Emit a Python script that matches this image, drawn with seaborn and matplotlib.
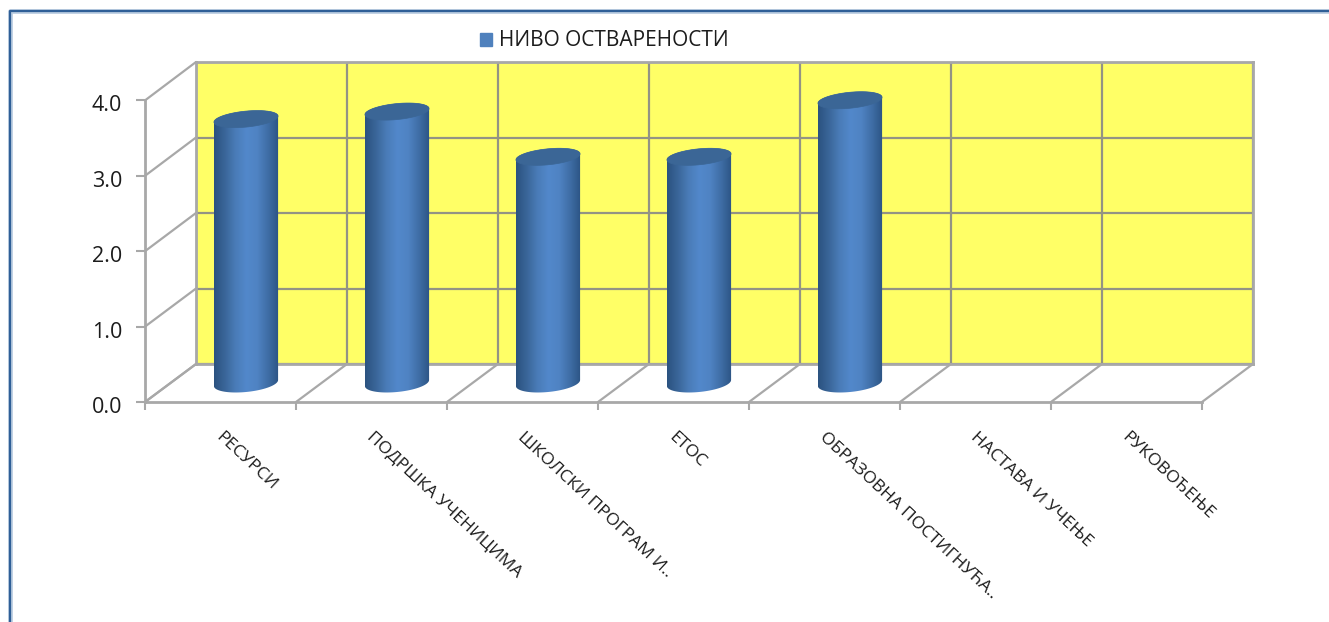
import numpy as np
import pandas as pd
import seaborn as sns
import matplotlib.pyplot as plt
from matplotlib.colors import LinearSegmentedColormap
from matplotlib.lines import Line2D
from matplotlib.patches import ConnectionPatch, PathPatch, Patch
from matplotlib.path import Path
from matplotlib.transforms import Affine2D

categories = ['РЕСУРСИ', 'ПОДРШКА УЧЕНИЦИМА', 'ШКОЛСКИ ПРОГРАМ И..', 'ЕТОС',
              'ОБРАЗОВНА ПОСТИГНУЋА..', 'НАСТАВА И УЧЕЊЕ', 'РУКОВОЂЕЊЕ']
values = [3.5, 3.6, 3.0, 3.0, 3.75, np.nan, np.nan]
y_ticks = [0, 1, 2, 3, 4]
series_name = 'НИВО ОСТВАРЕНОСТИ'

W, H = 1329, 622
GRID = '#939384'
AXIS = '#a8a8a8'
BLUE = '#4f81bd'
TEXT = '#1c1c1c'

sns.set_theme(style='white')
plt.rcParams['font.family'] = ['Open Sans', 'DejaVu Sans']

fig = plt.figure(figsize=(W / 100, H / 100), dpi=100)


# axes from pixel box of the reference (y counted from the top)
def px_axes(x0, x1, y_top, y_bottom, **kw):
    return fig.add_axes([x0 / W, 1 - y_bottom / H, (x1 - x0) / W, (y_bottom - y_top) / H], **kw)


# back wall, floor middle (bars), front plane
back = px_axes(196, 1253, 62, 364, facecolor='#ffff66')
unit = 75.4
mid = px_axes(170.5, 1227.5, 383 - 4.3 * unit, 383 + 0.3 * unit, facecolor='none')
front = px_axes(145, 1202, 402 - 4 * unit, 402, facecolor='none')

# back wall
back.set_xlim(-0.5, 6.5)
back.set_ylim(0, 4)
back.set_xticks(np.arange(-0.5, 7))
back.set_yticks(y_ticks)
back.grid(True, color=GRID, linewidth=1.6)
back.tick_params(left=False, bottom=False, labelleft=False, labelbottom=False)
for s in back.spines.values():
    s.set_color(AXIS)
    s.set_linewidth(2)

# bars come from seaborn, then get redrawn as cylinders
df = pd.DataFrame({'category': categories, 'value': values})
sns.barplot(data=df, x='category', y='value', order=categories, color=BLUE,
            width=0.425, saturation=1, ax=mid)
mid.set_xlim(-0.5, 6.5)
mid.set_ylim(-0.3, 4.3)
mid.set_axis_off()

shade = LinearSegmentedColormap.from_list(
    'cyl', ['#2b5280', '#3a6699', '#4a7cb8', '#5288cb', '#4f83c3', '#3f6ea6', '#2c5484'])
ry = 8 / unit
tilt = 3 / unit
t = np.linspace(0, np.pi, 60)
for bar in list(mid.patches):
    h = bar.get_height()
    x0, w = bar.get_x(), bar.get_width()
    bar.set_visible(False)
    if not np.isfinite(h) or h <= 0:
        continue
    cx = x0 + w / 2
    # outline: top half of top ellipse, then bottom half of base
    top_x = cx + w / 2 * np.cos(t)
    top_y = h + ry * np.sin(t) + tilt * np.cos(t)
    bot_x = cx - w / 2 * np.cos(t)
    bot_y = -(ry + 1 / unit) * np.sin(t) - tilt * np.cos(t)
    outline = np.column_stack([np.r_[top_x, bot_x], np.r_[top_y, bot_y]])
    body = PathPatch(Path(np.r_[outline, outline[:1]]), transform=mid.transData,
                     facecolor='none', edgecolor='none')
    mid.add_patch(body)
    im = mid.imshow(np.linspace(0, 1, 128)[None, :], cmap=shade, aspect='auto',
                    extent=(x0, x0 + w, -0.3, h + 0.2), zorder=3)
    im.set_clip_path(body)
    lid = np.column_stack([cx + w / 2 * np.cos(2 * t), h + ry * np.sin(2 * t) + tilt * np.cos(2 * t)])
    mid.add_patch(PathPatch(Path(lid), transform=mid.transData, facecolor='#3b6696',
                            edgecolor='#3b6696', linewidth=0.5, zorder=4))
mid.set_xlim(-0.5, 6.5)
mid.set_ylim(-0.3, 4.3)

# front plane with the axis labels
front.set_xlim(-0.5, 6.5)
front.set_ylim(0, 4)
front.set_yticks(y_ticks)
front.set_yticklabels([f'{v:.1f}' for v in y_ticks], fontsize=15.5, color=TEXT)
front.set_xticks(np.arange(-0.5, 7))
front.set_xticklabels([])
front.set_xticks(np.arange(7) - 0.02, categories, minor=True)
front.tick_params(axis='x', which='major', bottom=True, length=6, width=1.5, color=AXIS)
front.tick_params(axis='x', which='minor', bottom=False, length=0, pad=23.5)
front.tick_params(axis='y', left=True, length=6.5, width=1.5, color=AXIS, pad=10)
# tick_params resets the label transforms, so nudge the numbers after it
for lab in front.get_yticklabels():
    lab.set_transform(lab.get_transform() + Affine2D().translate(0, -3))
for lab in front.get_xticklabels(minor=True):
    lab.set(rotation=-43, ha='left', va='center', rotation_mode='anchor', fontsize=12.6, color=TEXT)
for name, s in front.spines.items():
    s.set_visible(name in ('left', 'bottom'))
    s.set_color(AXIS)
    s.set_linewidth(2)

# depth lines joining front plane and back wall
for v in y_ticks:
    fig.add_artist(ConnectionPatch((-0.5, v), (-0.5, v), coordsA=front.transData, coordsB=back.transData,
                                   color=AXIS, linewidth=1.6))
for v in np.arange(-0.5, 7):
    fig.add_artist(ConnectionPatch((v, 0), (v, 0), coordsA=front.transData, coordsB=back.transData,
                                   color=AXIS, linewidth=1.6))

# legend
fig.legend(handles=[Patch(color=BLUE, label=series_name)], loc='center left',
           bbox_to_anchor=(480 / W, 1 - 41 / H), frameon=False, fontsize=15,
           handlelength=0.57, handleheight=0.57, handletextpad=0.35, borderpad=0, borderaxespad=0,
           labelcolor=TEXT)

# outer frame of the chart area: only left and top edges are in the crop
fig.add_artist(Line2D([9.5 / W, 9.5 / W, 1], [0, 1 - 10.5 / H, 1 - 10.5 / H], transform=fig.transFigure,
                      color='#b9cbe0', linewidth=3.4))
fig.add_artist(Line2D([9.5 / W, 9.5 / W, 1], [0, 1 - 10.5 / H, 1 - 10.5 / H], transform=fig.transFigure,
                      color='#2f5f97', linewidth=1.6))

fig.savefig('out.png', dpi=100)
